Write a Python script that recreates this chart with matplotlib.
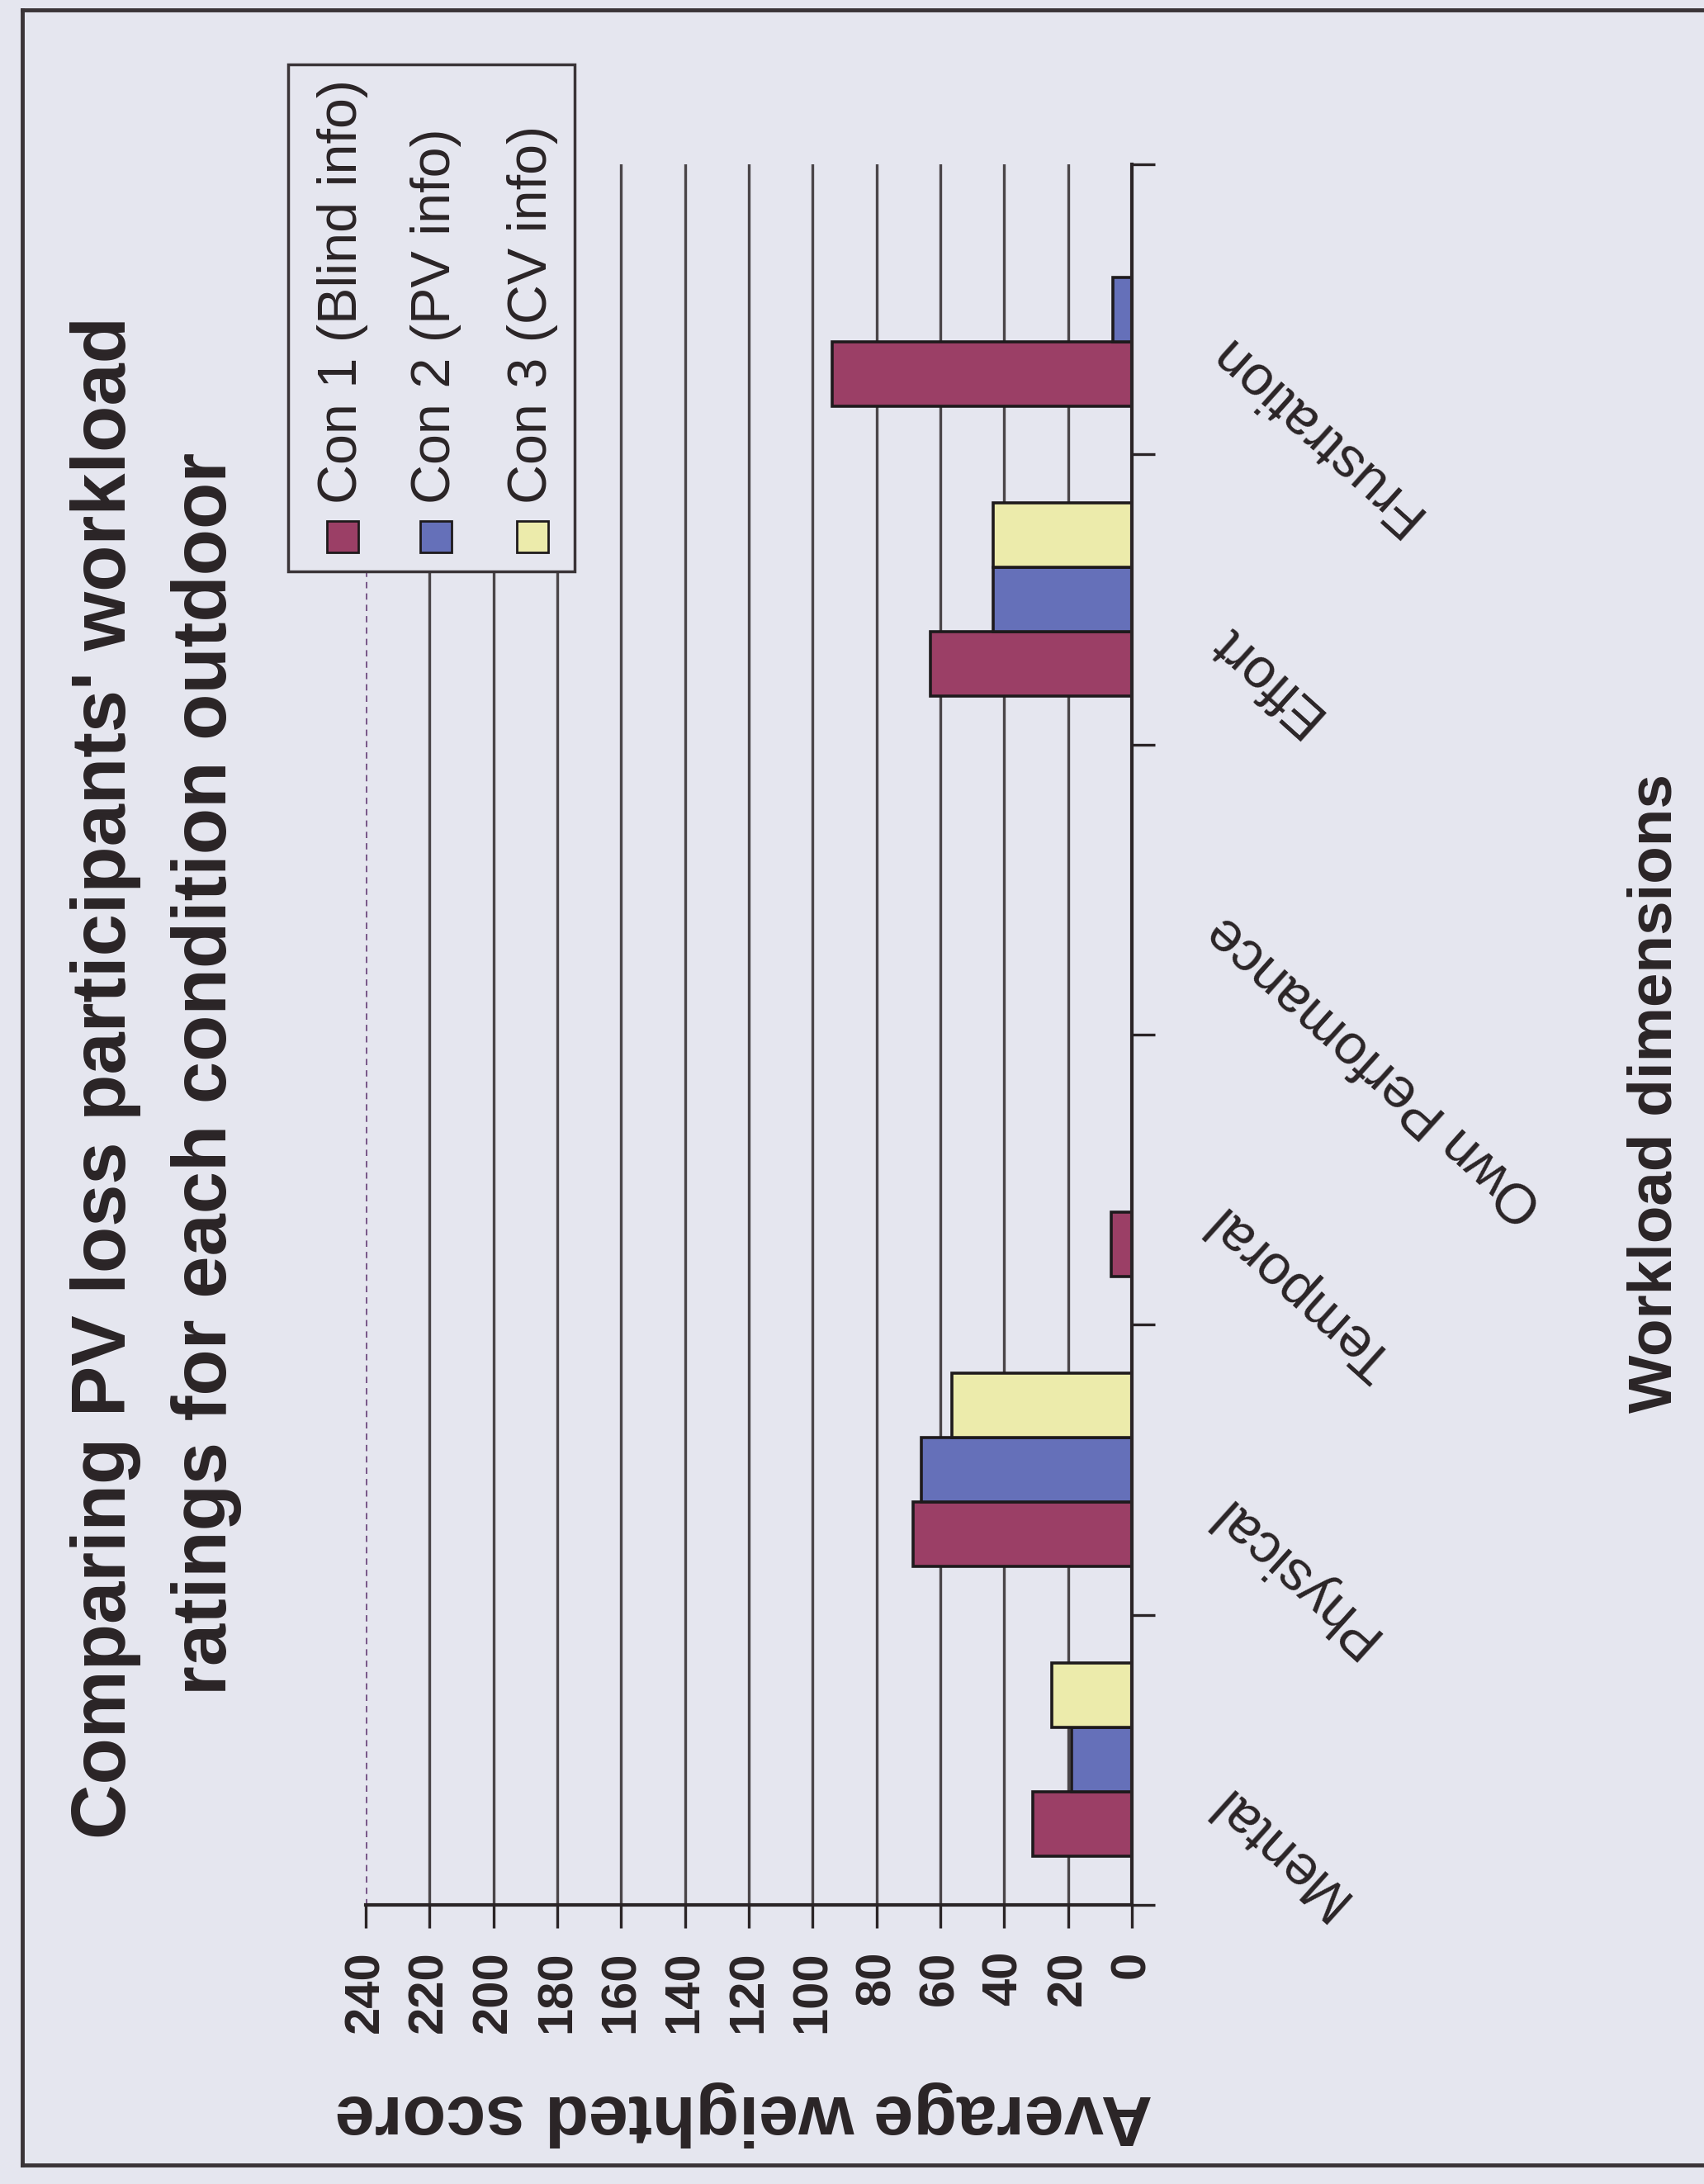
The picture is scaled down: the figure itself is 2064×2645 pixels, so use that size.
import matplotlib.pyplot as plt
import numpy as np
from matplotlib import font_manager as fm
from matplotlib.patches import Rectangle
from matplotlib.lines import Line2D

categories = ["Mental", "Physical", "Temporal", "Own Perfomance", "Effort", "Frustration"]
series_names = ["Con 1 (Blind info)", "Con 2 (PV info)", "Con 3 (CV info)"]
con1 = [31, 68.5, 6.5, 0, 63, 94]
con2 = [19, 66, 0, 0, 43.5, 6]
con3 = [25, 56.5, 0, 0, 43.5, 0]
value_ticks = list(range(0, 241, 20))
title_lines = ["Comparing PV loss participants' workload",
               "ratings for each condition outdoor"]
value_label = "Average weighted score"
category_label = "Workload dimensions"

colors = ["#9b3f66", "#6570b9", "#ecebab"]
BG = "#e5e6ef"
INK = "#2a2426"


def pick(name, fallback="Liberation Sans"):
    try:
        fm.findfont(fm.FontProperties(family=name), fallback_to_default=False)
        return name
    except ValueError:
        return fallback


NARROW = pick("Liberation Sans Narrow")
k = 1.0 if NARROW == "Liberation Sans Narrow" else 0.84
REG = "Liberation Sans"

W, H, DPI = 2064, 2645, 100
fig = plt.figure(figsize=(W / DPI, H / DPI), dpi=DPI, facecolor=BG)


def fx(px):
    return px / W


def fy(py):
    return 1 - py / H


# plot area (values run right -> left, categories bottom -> top)
x0, x1, ytop, ybot = 443, 1371, 199, 2307
ax = fig.add_axes([fx(x0), fy(ybot), fx(x1) - fx(x0), fy(ytop) - fy(ybot)])
ax.set_facecolor(BG)
ax.set_xlim(max(value_ticks), 0)
ax.set_ylim(-0.5, len(categories) - 0.5)

for v in value_ticks[1:-1]:
    ax.axvline(v, color="#4a4548", lw=2.4, zorder=1)
ax.axvline(value_ticks[-1], color="#7a5a8a", lw=2.2, ls=(0, (2.5, 2)), zorder=1)

y = np.arange(len(categories))
bw = 1 / 4.5
for j, vals in enumerate([con1, con2, con3]):
    ax.barh(y + (j - 1) * bw, vals, height=bw, color=colors[j],
            edgecolor="#1e1a1c", linewidth=2.6, zorder=3)

for s in ["top", "left"]:
    ax.spines[s].set_visible(False)
for s in ["right", "bottom"]:
    ax.spines[s].set_color(INK)
    ax.spines[s].set_linewidth(3)
    ax.spines[s].set_zorder(4)

ax.set_xticks(value_ticks)
ax.set_xticklabels([str(v) for v in value_ticks], rotation=90,
                   fontsize=43, fontweight="bold", family=REG, color=INK)
ax.tick_params(axis="x", direction="out", length=20, width=2.4, pad=20, color=INK)

ax.set_yticks([])
ax.set_yticks(np.arange(-0.5, len(categories), 1), minor=True)
ax.yaxis.tick_right()
ax.tick_params(axis="y", which="minor", direction="out", length=20, width=2.4,
               right=True, left=False, color=INK)

for i, cat in enumerate(categories):
    ax.text(-26, i - 0.12, cat, rotation=138, rotation_mode="anchor",
            ha="right", va="center", fontsize=58 * k, family=NARROW,
            color=INK, clip_on=False)

# title (two lines, rotated)
fig.text(fx(128), fy(1305), title_lines[0], rotation=90, ha="center", va="center",
         fontsize=79 * k, fontweight="bold", family=NARROW, color=INK)
fig.text(fx(250), fy(1300), title_lines[1], rotation=90, ha="center", va="center",
         fontsize=79 * k, fontweight="bold", family=NARROW, color=INK)

fig.text(fx(901), fy(2560), value_label, rotation=180, ha="center", va="center",
         fontsize=74 * k, fontweight="bold", family=NARROW, color=INK)
fig.text(fx(2005), fy(1324), category_label, rotation=90, ha="center", va="center",
         fontsize=64 * k, fontweight="bold", family=NARROW, color=INK)

# legend box drawn over the plot area
lx0, lx1, ly0, ly1 = 349, 696, 78, 692
fig.add_artist(Rectangle((fx(lx0), fy(ly1)), fx(lx1) - fx(lx0), fy(ly0) - fy(ly1),
                         transform=fig.transFigure, facecolor=BG, edgecolor="#3a3437",
                         linewidth=2.5, zorder=10))
entry_x = [415, 528, 645]
msz = 38
for j, name in enumerate(series_names):
    fig.add_artist(Rectangle((fx(entry_x[j] - msz / 2), fy(650 + msz / 2)), fx(msz), msz / H,
                             transform=fig.transFigure, facecolor=colors[j],
                             edgecolor="#1e1a1c", linewidth=2, zorder=11))
    fig.text(fx(entry_x[j]), fy(610), name, rotation=90, ha="center", va="bottom",
             fontsize=57 * k, family=NARROW, color=INK, zorder=11)

# outer frame of the picture
for xs, ys in [([fx(27), 1.0], [fy(12), fy(12)]),
               ([fx(27), fx(27)], [fy(12), fy(2622)]),
               ([fx(27), 1.0], [fy(2622), fy(2622)])]:
    fig.add_artist(Line2D(xs, ys, transform=fig.transFigure, color="#3a3437", lw=3.5))

fig.savefig("out.png", dpi=DPI, facecolor=BG)
